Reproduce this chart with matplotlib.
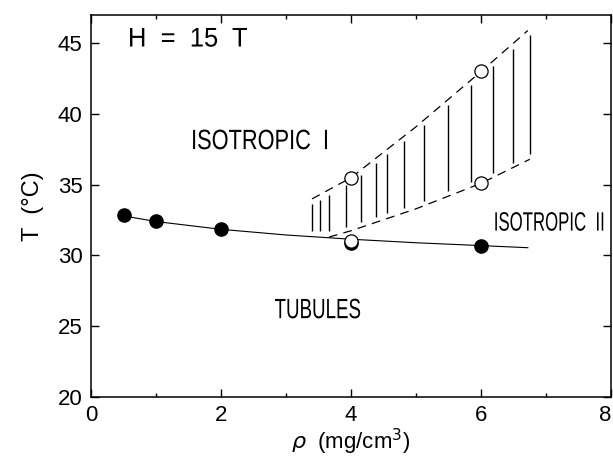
import numpy as np
import matplotlib
matplotlib.use('Agg')
import matplotlib.pyplot as plt
from matplotlib.ticker import MultipleLocator
from matplotlib.textpath import TextPath
from matplotlib.patches import PathPatch
from matplotlib.font_manager import FontProperties
from matplotlib.transforms import Affine2D

plt.rcParams['font.family'] = ['Liberation Sans', 'DejaVu Sans']

# filled circles: tubule melting points
rho_fill = [0.5, 1.0, 2.0, 4.0, 6.0]
T_fill = [32.85, 32.45, 31.85, 30.85, 30.65]
# open circles
rho_open = [4.0, 4.0, 6.0, 6.0]
T_open = [31.05, 35.5, 43.05, 35.1]

# solid guide curve
rho_curve = [0.5, 1.0, 2.0, 3.0, 4.0, 5.0, 6.0, 6.72]
T_curve = [32.8, 32.4, 31.85, 31.45, 31.15, 30.9, 30.7, 30.55]
# dashed boundaries of the hatched region
rho_up = [3.4, 4.0, 5.0, 6.0, 6.72]
T_up = [34.0, 35.5, 39.1, 43.0, 45.9]
rho_lo = [3.66, 4.0, 5.0, 6.0, 6.75]
T_lo = [31.3, 31.75, 33.3, 35.1, 36.8]
# hatch line positions
rho_hatch = [3.40, 3.52, 3.66, 3.92, 4.15, 4.38, 4.56, 4.82, 5.13, 5.49, 5.85, 6.18, 6.49, 6.75]

# region labels: text, (x0, x1, baseline, cap top) in data units
labels = [
    ('H  =  15  T', 0.60, 2.40, 44.75, 46.08),
    ('ISOTROPIC  I', 1.57, 3.63, 37.50, 38.90),
    ('TUBULES', 2.83, 4.14, 25.55, 26.95),
    ('ISOTROPIC  II', 6.22, 7.88, 31.74, 33.07),
]

fig = plt.figure(figsize=(6.13, 4.57), dpi=100)
ax = fig.add_axes([0.1485, 0.1313, 0.8483, 0.836])


def condensed_text(ax, s, x0, x1, y0, y1):
    # squeeze a text outline into a box so it looks like the narrow typeface
    tp = TextPath((0, 0), s, size=1, prop=FontProperties(family='Liberation Sans'))
    ext = tp.get_extents()
    tr = (Affine2D().translate(-ext.x0, -ext.y0)
          .scale((x1 - x0) / ext.width, (y1 - y0) / ext.height)
          .translate(x0, y0))
    ax.add_patch(PathPatch(tr.transform_path(tp), fc='black', ec='none'))


ax.plot(rho_curve, T_curve, '-', color='black', lw=0.8)
ax.plot(rho_up, T_up, color='black', lw=0.9, dashes=(7, 5))
ax.plot(rho_lo, T_lo, color='black', lw=0.9, dashes=(7, 5))

top = np.interp(rho_hatch, rho_up, T_up) - 0.35
bot = np.maximum(np.interp(rho_hatch, rho_lo, T_lo), 31.4) + 0.35
ax.vlines(rho_hatch, bot, top, color='black', lw=1.0)

ax.plot(rho_fill, T_fill, 'o', color='black', ms=9.5)
ax.plot(rho_open, T_open, 'o', mfc='white', mec='black', mew=0.9, ms=9.5)

for s, x0, x1, y0, y1 in labels:
    condensed_text(ax, s, x0, x1, y0, y1)

ax.set_xlim(0, 8)
ax.set_ylim(20, 47.0)
ax.set_xticks([0, 2, 4, 6, 8])
ax.xaxis.set_minor_locator(MultipleLocator(1))
ax.set_yticks([20, 25, 30, 35, 40, 45])
ax.tick_params(which='both', direction='in', top=True, right=True, labelsize=16, width=1)
ax.tick_params(which='major', length=6, pad=6)
ax.tick_params(which='minor', length=3)
ax.get_xticklabels()[-1].set_ha('right')
for s in ax.spines.values():
    s.set_linewidth(1.1)

ax.set_xlabel(r'$\rho$  (mg/cm$^3$)', fontsize=16, labelpad=0)
ax.set_ylabel('T  (°C)', fontsize=17, labelpad=10)

fig.savefig('out.png', dpi=100)
